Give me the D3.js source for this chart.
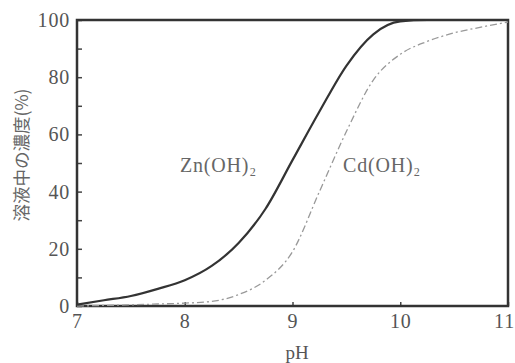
<!DOCTYPE html>
<html><head><meta charset="utf-8">
<script src="https://cdn.jsdelivr.net/npm/d3@7"></script>
<style>
body{margin:0;background:#fff;}
svg{display:block;}
.tick text{font-family:"Liberation Serif","DejaVu Serif",serif;fill:#555;}
</style></head>
<body>
<svg id="c" width="515" height="363"></svg>
<script>
const pH = [7, 7.25, 7.5, 7.75, 8, 8.25, 8.5, 8.75, 9, 9.25, 9.5, 9.75, 10, 10.25, 10.5, 10.75, 11];
const znValues = [0.5, 2, 3.5, 6, 9, 14, 22, 34, 51, 68, 84, 95, 99.5, 100, 100, 100, 100];
const cdValues = [0, 0.2, 0.4, 0.7, 1, 1.6, 4, 9, 19, 40, 61, 79, 88, 92.5, 95.5, 97.5, 99.3];
const xTicks = [7, 8, 9, 10, 11];
const yTicks = [0, 10, 20, 30, 40, 50, 60, 70, 80, 90, 100];
const seriesLabels = ["Zn(OH)\u2082", "Cd(OH)\u2082"];
const xTitle = "pH";
const yTitle = "溶液中の濃度(%)";

const svg = d3.select("#c");
const L = 77, R = 508, T = 20, B = 306;
const x = d3.scaleLinear().domain([7, 11]).range([L, R]);
const y = d3.scaleLinear().domain([0, 100]).range([B, T]);

// axes
const yAxis = d3.axisLeft(y).tickValues(yTicks).tickSize(-5).tickPadding(7)
  .tickFormat(d => d % 20 === 0 ? d : "");
const gy = svg.append("g").attr("transform", `translate(${L},0)`).call(yAxis);
gy.select(".domain").remove();
gy.selectAll(".tick line").attr("stroke", "#444").attr("stroke-width", 1.5);
gy.selectAll(".tick text").attr("font-size", 20).attr("letter-spacing", 0.8);

const xAxis = d3.axisBottom(x).tickValues(xTicks).tickSize(-4).tickPadding(8).tickFormat(d3.format("d"));
const gx = svg.append("g").attr("transform", `translate(0,${B})`).call(xAxis);
gx.select(".domain").remove();
gx.selectAll(".tick line").attr("stroke", "#444").attr("stroke-width", 1.5);
gx.selectAll(".tick text").attr("font-size", 20).attr("letter-spacing", 0.8)
  .attr("dx", d => d === 11 ? -4 : 0);

// frame
svg.append("rect").attr("x", L).attr("y", T).attr("width", R - L).attr("height", B - T)
  .attr("fill", "none").attr("stroke", "#333").attr("stroke-width", 2.5);

const line = d3.line().x((d, i) => x(pH[i])).y(d => y(d)).curve(d3.curveMonotoneX);

svg.append("path").datum(cdValues).attr("d", line).attr("fill", "none")
  .attr("stroke", "#999").attr("stroke-width", 1.3).attr("stroke-dasharray", "7,3,2,3");
svg.append("path").datum(znValues).attr("d", line).attr("fill", "none")
  .attr("stroke", "#333").attr("stroke-width", 2.2);

// series labels
svg.append("text").attr("x", 180).attr("y", 172).attr("font-family", "Liberation Serif, serif")
  .attr("font-size", 20).attr("letter-spacing", 0.8).attr("fill", "#666").text(seriesLabels[0]);
svg.append("text").attr("x", 343).attr("y", 172).attr("font-family", "Liberation Serif, serif")
  .attr("font-size", 20).attr("letter-spacing", 0.8).attr("fill", "#666").text(seriesLabels[1]);

// titles
svg.append("text").attr("x", 297).attr("y", 359).attr("text-anchor", "middle")
  .attr("font-family", "Liberation Serif, serif").attr("font-size", 19).attr("fill", "#555").text(xTitle);
svg.append("text").attr("transform", `translate(28,155) rotate(-90)`)
  .attr("text-anchor", "middle").attr("font-family", "Noto Sans CJK JP, sans-serif")
  .attr("font-size", 17.5).attr("fill", "#666").text(yTitle);
</script>
</body></html>
